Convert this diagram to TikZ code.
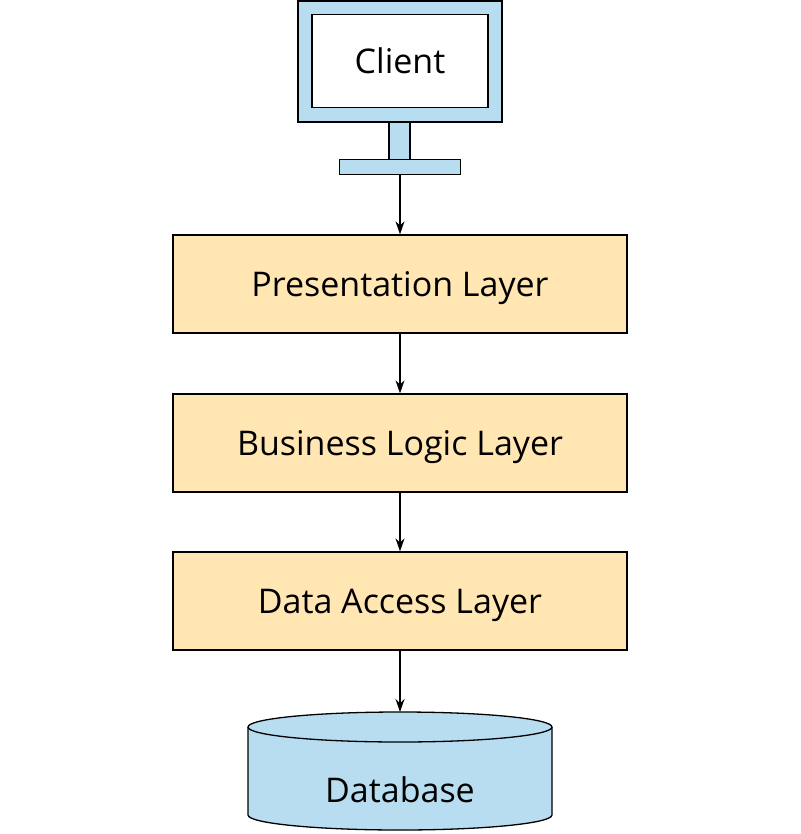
\documentclass[tikz,border=0pt]{standalone}
\usepackage{fontspec}
\setmainfont{Open Sans}
\usetikzlibrary{arrows.meta}
\definecolor{lblue}{HTML}{B9DDF0}
\definecolor{lyel}{HTML}{FFE6B3}
\begin{document}
\begin{tikzpicture}[x=1pt,y=-1pt,
  layer/.style={draw=black,fill=lyel,line width=1.3pt,minimum width=454pt,minimum height=98pt,font=\fontsize{34}{40}\selectfont,inner sep=0pt,text depth=0pt},
  conn/.style={-{Stealth[length=13pt,width=9pt]},line width=1.3pt}]
\useasboundingbox (0,0) rectangle (800,834);
% monitor
\draw[fill=lblue,line width=1.3pt] (298,1) rectangle (502,122);
\node[draw,fill=white,line width=1.3pt,minimum width=176pt,minimum height=93pt,inner sep=0pt,text depth=0pt,font=\fontsize{34}{40}\selectfont] (client) at (400,61) {Client};
\draw[fill=lblue,line width=1.3pt] (389,122) rectangle (410,166);
\node[draw,fill=lblue,line width=1.3pt,minimum width=121pt,minimum height=15pt,inner sep=0pt] (base) at (400,167) {};
\node[layer] (pres) at (400,284) {Presentation Layer};
\node[layer] (bus) at (400,443) {Business Logic Layer};
\node[layer] (data) at (400,601) {Data Access Layer};
% database
\draw[fill=lblue,line width=1.3pt] (248,727) -- (248,815) arc[start angle=180,end angle=0,x radius=152,y radius=15] -- (552,727) arc[start angle=0,end angle=-180,x radius=152,y radius=15] -- cycle;
\draw[line width=1.3pt] (248,727) arc[start angle=180,end angle=0,x radius=152,y radius=15];
\coordinate (dbtop) at (400,712);
\node[font=\fontsize{34}{40}\selectfont,text depth=0pt] (db) at (400,790) {Database};
\draw[conn] (base.south) -- (pres.north);
\draw[conn] (pres.south) -- (bus.north);
\draw[conn] (bus.south) -- (data.north);
\draw[conn] (data.south) -- (dbtop);
\end{tikzpicture}
\end{document}
